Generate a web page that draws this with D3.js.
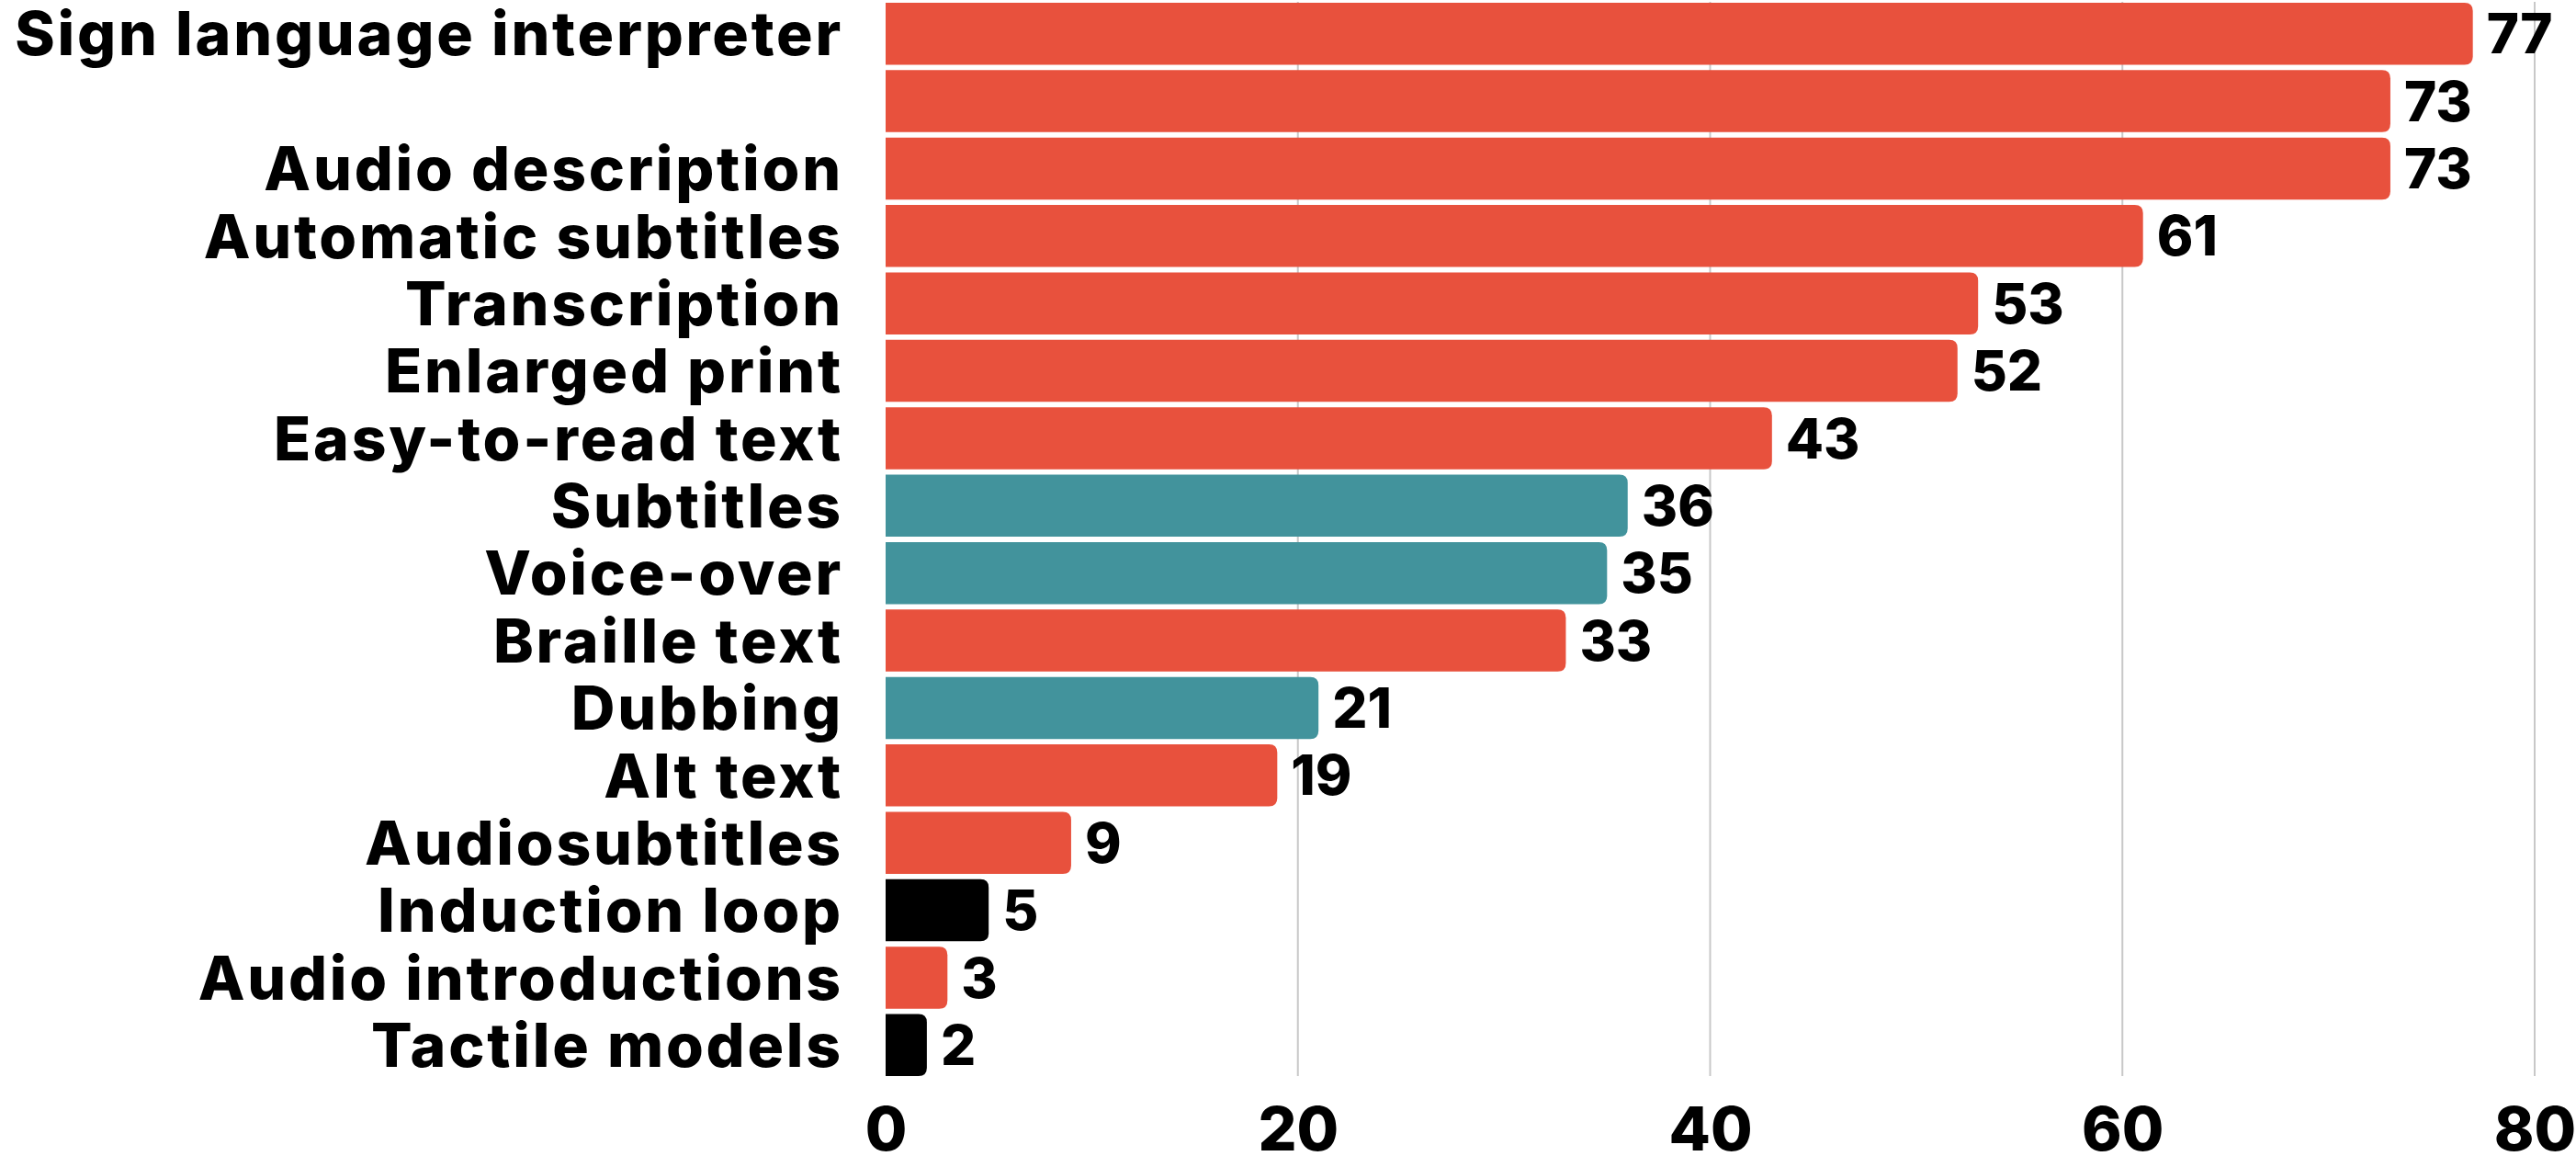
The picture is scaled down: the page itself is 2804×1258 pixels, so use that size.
<!DOCTYPE html>
<html>
<head>
<meta charset="utf-8">
<script src="https://cdn.jsdelivr.net/npm/d3@7"></script>
<style>
  html, body { margin: 0; padding: 0; background: #fff; }
  svg { display: block; }
  text { font-family: Inter, "Noto Sans", sans-serif; font-weight: 800; fill: #000; }
</style>
</head>
<body>
<svg id="chart" width="2804" height="1258"></svg>
<script>
const categories = [
  "Sign language interpreter", "", "Audio description", "Automatic subtitles",
  "Transcription", "Enlarged print", "Easy-to-read text", "Subtitles",
  "Voice-over", "Braille text", "Dubbing", "Alt text", "Audiosubtitles",
  "Induction loop", "Audio introductions", "Tactile models"
];
const values = [77, 73, 73, 61, 53, 52, 43, 36, 35, 33, 21, 19, 9, 5, 3, 2];
const groups = ["red", "red", "red", "red", "red", "red", "red", "teal", "teal",
  "red", "teal", "red", "red", "black", "red", "black"];
const tickValues = [0, 20, 40, 60, 80];
const palette = { red: "#E8513D", teal: "#42939C", black: "#000000" };

(function () {
const svg = d3.select("#chart");
const mLeft = 964, mRight = 2759, mTop = 0, mBottom = 1174;

const x = d3.scaleLinear().domain([0, 80]).range([mLeft, mRight]);
const rows = categories.map((c, i) => i);
const y = d3.scaleBand().domain(rows).range([mTop, mBottom]).paddingInner(0.08).paddingOuter(0.04);

// gridlines
svg.append("g").selectAll("line").data(tickValues.slice(1)).join("line")
  .attr("x1", d => x(d)).attr("x2", d => x(d))
  .attr("y1", 2).attr("y2", 1171)
  .attr("stroke", "#c8c8c8").attr("stroke-width", 2);

// bars: square left edge, rounded right edge
const r = 9;
function barPath(i) {
  const x0 = x(0), x1 = x(values[i]), y0 = y(i), h = y.bandwidth();
  const rr = Math.min(r, (x1 - x0) / 2, h / 2);
  return `M${x0},${y0}H${x1 - rr}Q${x1},${y0} ${x1},${y0 + rr}V${y0 + h - rr}Q${x1},${y0 + h} ${x1 - rr},${y0 + h}H${x0}Z`;
}
svg.append("g").selectAll("path").data(rows).join("path")
  .attr("d", barPath)
  .attr("fill", i => palette[groups[i]]);

// category labels
const yAxis = d3.axisLeft(y).tickSize(0).tickPadding(46).tickFormat(i => categories[i]);
const gy = svg.append("g").attr("transform", `translate(${mLeft},0)`).call(yAxis);
gy.select(".domain").remove();
gy.selectAll("text").attr("font-size", 66).attr("dy", "0.36em")
  .style("letter-spacing", "2.8px")
  .style("font-family", "Inter, sans-serif").style("font-weight", 800).attr("fill", "#000");

// value labels
svg.append("g").selectAll("text").data(rows).join("text")
  .attr("x", i => x(values[i]) + 15)
  .attr("y", i => y(i) + y.bandwidth() / 2)
  .attr("dy", "0.36em")
  .attr("font-size", 60)
  .text(i => values[i]);

// x axis
const xAxis = d3.axisBottom(x).tickValues(tickValues).tickSize(0).tickPadding(0).tickFormat(d3.format("d"));
const gx = svg.append("g").attr("transform", `translate(0,${mBottom})`).call(xAxis);
gx.select(".domain").remove();
gx.selectAll("text").attr("font-size", 66).attr("dy", null).attr("y", 78)
  .style("font-family", "Inter, sans-serif").style("font-weight", 800).attr("fill", "#000");
})();
</script>
</body>
</html>
